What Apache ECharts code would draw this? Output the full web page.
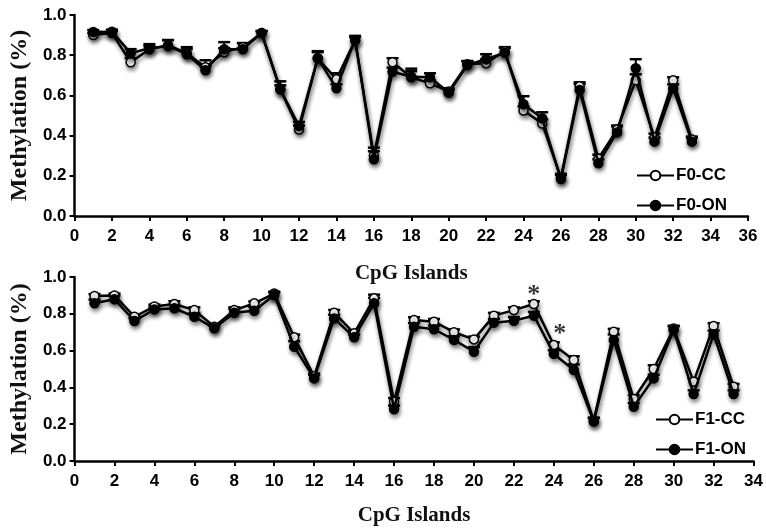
<!DOCTYPE html>
<html>
<head>
<meta charset="utf-8">
<script src="https://cdn.jsdelivr.net/npm/echarts@6/dist/echarts.min.js"></script>
<style>
  html, body { margin: 0; padding: 0; background: #fff; }
  #chart { width: 766px; height: 532px; }
</style>
</head>
<body>
<div id="chart"></div>
<script>
// CpG island index (x axis)
const islands = [1,2,3,4,5,6,7,8,9,10,11,12,13,14,15,16,17,18,19,20,21,22,23,24,25,26,27,28,29,30,31,32,33];

// F0 generation: mean methylation per island
const f0CC = [0.90,0.91,0.765,0.83,0.85,0.81,0.74,0.815,0.84,0.91,0.63,0.43,0.785,0.68,0.875,0.30,0.765,0.69,0.66,0.62,0.755,0.76,0.82,0.525,0.46,0.19,0.645,0.285,0.43,0.675,0.39,0.675,0.38];
const f0ON = [0.915,0.917,0.81,0.835,0.845,0.805,0.725,0.83,0.83,0.91,0.63,0.448,0.785,0.635,0.876,0.282,0.718,0.693,0.69,0.613,0.751,0.78,0.812,0.556,0.486,0.184,0.627,0.262,0.416,0.735,0.37,0.635,0.37];
const f0CCerr = [0.01,0.01,0.02,0.015,0.025,0.02,0.035,0.02,0.02,0.01,0.02,0.02,0.035,0.03,0.015,0.04,0.02,0.03,0.015,0.015,0.015,0.02,0.02,0.02,0.02,0.02,0.02,0.02,0.02,0.03,0.02,0.015,0.015];
const f0ONerr = [0.01,0.01,0.02,0.02,0.03,0.035,0.02,0.035,0.03,0.01,0.04,0.02,0.03,0.02,0.02,0.04,0.02,0.04,0.02,0.015,0.02,0.025,0.025,0.04,0.03,0.02,0.03,0.02,0.03,0.045,0.02,0.02,0.02];

// F1 generation: mean methylation per island
const f1CC = [0.897,0.90,0.784,0.84,0.853,0.82,0.73,0.82,0.857,0.91,0.672,0.46,0.806,0.694,0.884,0.322,0.766,0.757,0.70,0.661,0.79,0.82,0.853,0.63,0.549,0.22,0.703,0.337,0.50,0.72,0.431,0.734,0.404];
const f1ON = [0.857,0.879,0.761,0.824,0.83,0.784,0.721,0.806,0.817,0.902,0.621,0.449,0.775,0.672,0.857,0.281,0.73,0.716,0.658,0.594,0.752,0.762,0.79,0.582,0.495,0.214,0.658,0.295,0.449,0.712,0.364,0.689,0.364];
const f1CCerr = [0.01,0.01,0.01,0.01,0.015,0.015,0.01,0.015,0.01,0.01,0.015,0.015,0.015,0.015,0.02,0.02,0.015,0.015,0.015,0.015,0.015,0.015,0.015,0.015,0.02,0.015,0.015,0.02,0.02,0.015,0.015,0.015,0.015];
const f1ONerr = [0.02,0.02,0.015,0.015,0.02,0.02,0.015,0.02,0.02,0.015,0.03,0.02,0.02,0.015,0.03,0.02,0.02,0.02,0.02,0.025,0.02,0.02,0.02,0.02,0.03,0.02,0.03,0.02,0.02,0.02,0.02,0.02,0.02];

// significance marks on the F1 panel
const starX = [23, 24.3];
const starY = [0.935, 0.72];

// x-axis extent for each panel
const xMaxTop = 36;
const xMaxBottom = 34;

const pairs = (ys) => islands.map((x, i) => [x, ys[i]]);
const errPairs = (ys, es) => islands.map((x, i) => [x, ys[i], ys[i] + es[i]]);

const tickFont = { fontFamily: 'Liberation Sans, Arial, sans-serif', fontWeight: 'bold', fontSize: 17, color: '#000' };
const serif = 'Liberation Serif, Times New Roman, serif';
const shadow = { shadowBlur: 4, shadowOffsetX: 1, shadowOffsetY: 3, shadowColor: 'rgba(0,0,0,0.45)' };

function xAxisFor(gridIndex, max, nameGap) {
  return {
    gridIndex, type: 'value', min: 0, max, interval: 2,
    name: 'CpG Islands', nameLocation: 'middle', nameGap,
    nameTextStyle: { fontFamily: serif, fontWeight: 'bold', fontSize: 21, color: '#111' },
    axisLine: { show: true, lineStyle: { color: '#000', width: 2.5 } },
    axisTick: { show: true, inside: false, length: 5, lineStyle: { color: '#000', width: 2 } },
    axisLabel: Object.assign({ margin: 12 }, tickFont),
    splitLine: { show: false }
  };
}
function yAxisFor(gridIndex, nameGap) {
  return {
    gridIndex, type: 'value', min: 0, max: 1, interval: 0.2,
    name: 'Methylation (%)', nameLocation: 'middle', nameGap,
    nameTextStyle: { fontFamily: serif, fontWeight: 'bold', fontSize: 24, color: '#111' },
    axisLine: { show: true, lineStyle: { color: '#000', width: 2.5 } },
    axisTick: { show: true, inside: false, length: 5, lineStyle: { color: '#000', width: 2 } },
    axisLabel: Object.assign({ margin: 8, formatter: (v) => v.toFixed(1) }, tickFont),
    splitLine: { show: false }
  };
}

function lineSeries(name, axisIdx, ys, open) {
  return {
    name, type: 'line', xAxisIndex: axisIdx, yAxisIndex: axisIdx,
    data: pairs(ys), symbol: 'circle', symbolSize: 9,
    z: open ? 3 : 4,
    lineStyle: Object.assign({ color: '#000', width: 2.5 }, shadow),
    itemStyle: Object.assign({ color: open ? '#fff' : '#000', borderColor: '#000', borderWidth: 1.5 }, shadow)
  };
}

// upper error caps: vertical stem plus horizontal cap
function errSeries(axisIdx, ys, es) {
  return {
    type: 'custom', xAxisIndex: axisIdx, yAxisIndex: axisIdx, z: 2, silent: true,
    data: errPairs(ys, es),
    renderItem: (params, api) => {
      const p0 = api.coord([api.value(0), api.value(1)]);
      const p1 = api.coord([api.value(0), api.value(2)]);
      const hw = 6;
      return {
        type: 'group',
        children: [
          { type: 'line', shape: { x1: p0[0], y1: p0[1], x2: p1[0], y2: p1[1] }, style: { stroke: '#000', lineWidth: 2 } },
          { type: 'line', shape: { x1: p1[0] - hw, y1: p1[1], x2: p1[0] + hw, y2: p1[1] }, style: { stroke: '#000', lineWidth: 2.5 } }
        ]
      };
    }
  };
}

const legendBase = {
  orient: 'vertical', itemWidth: 37, itemHeight: 12, itemGap: 13,
  textStyle: { fontFamily: 'Liberation Sans, Arial, sans-serif', fontWeight: 'bold', fontSize: 17, color: '#000', padding: [0, 0, 0, -3] },
  padding: 0
};

const chart = echarts.init(document.getElementById('chart'), null, { renderer: 'canvas' });
chart.setOption({
  animation: false,
  backgroundColor: '#fff',
  grid: [
    { left: 72, top: 15, width: 676, height: 201 },
    { left: 70, top: 277, width: 687, height: 184 }
  ],
  xAxis: [xAxisFor(0, xMaxTop, 47), xAxisFor(1, xMaxBottom, 44)],
  yAxis: [yAxisFor(0, 41), yAxisFor(1, 39)],
  legend: [
    Object.assign({ left: 636, top: 167, data: ['F0-CC', 'F0-ON'] }, legendBase),
    Object.assign({ left: 655, top: 411, data: ['F1-CC', 'F1-ON'] }, legendBase)
  ],
  series: [
    errSeries(0, f0CC, f0CCerr),
    errSeries(0, f0ON, f0ONerr),
    lineSeries('F0-CC', 0, f0CC, true),
    lineSeries('F0-ON', 0, f0ON, false),
    errSeries(1, f1CC, f1CCerr),
    errSeries(1, f1ON, f1ONerr),
    lineSeries('F1-CC', 1, f1CC, true),
    lineSeries('F1-ON', 1, f1ON, false),
    {
      type: 'scatter', xAxisIndex: 1, yAxisIndex: 1, silent: true,
      symbol: 'circle', symbolSize: 1, itemStyle: { color: 'rgba(0,0,0,0)' },
      data: starX.map((x, i) => [x, starY[i]]),
      label: { show: true, position: 'inside', offset: [0, 6], formatter: '*', fontFamily: serif, fontWeight: 'bold', fontSize: 26, color: '#000' }
    }
  ]
});
</script>
</body>
</html>
